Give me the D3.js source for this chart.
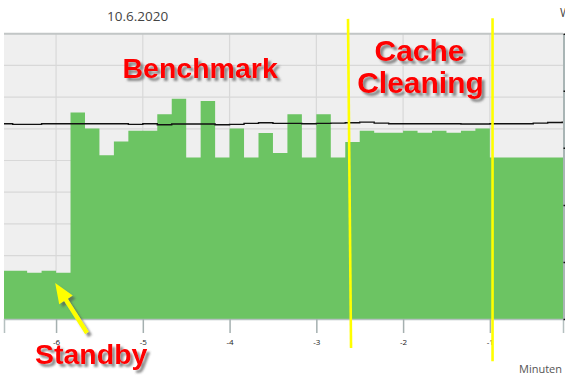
<!DOCTYPE html>
<html>
<head>
<meta charset="utf-8">
<script src="https://cdn.jsdelivr.net/npm/d3@7"></script>
<style>
  body { margin: 0; background: #fff; }
  svg { display: block; font-family: 'Open Sans', sans-serif; }
</style>
</head>
<body>
<script>
// sample start times in seconds (10 s steps), power in W, temperature line
let sampleSeconds = [-400, -390, -380, -370, -360, -350, -340, -330, -320, -310,
  -300, -290, -280, -270, -260, -250, -240, -230, -220, -210,
  -200, -190, -180, -170, -160, -150, -140, -130, -120, -110,
  -100, -90, -80, -70, -60, -50, -40, -30, -20, -10, 0];

let powerValues = [8.46, 8.46, 8.11, 8.46, 8.11, 36.2, 33.4, 28.7, 31.1, 33.0,
  33.0, 35.9, 38.6, 28.3, 38.2, 28.3, 33.4, 28.3, 32.6, 29.1,
  35.9, 28.3, 35.9, 28.3, 31.0, 33.0, 32.65, 32.65, 33.0, 32.65,
  33.0, 32.65, 33.0, 33.4, 28.3, 28.3, 28.3, 28.3, 28.3, 28.3, 28.3];

let tempValues = [61.6, 61.4, 61.4, 61.6, 61.6, 61.6, 61.6, 61.6, 61.6, 61.4,
  61.6, 61.3, 61.5, 61.5, 61.5, 61.3, 61.4, 61.7, 61.9, 61.7,
  61.7, 61.6, 61.7, 61.8, 61.9, 62.1, 61.8, 61.6, 61.6, 61.6,
  61.6, 61.6, 61.5, 61.5, 61.6, 61.6, 61.6, 61.8, 62.0, 62.1, 62.1];

let minuteTicks = [-6, -5, -4, -3, -2, -1];
let minuteLabels = ['-6', '-5', '-4', '-3', '-2', '-1'];
let powerTicks = [0, 10, 20, 30, 40, 50];

let width = 565;
let height = 380;
let plotLeft = 4, plotRight = 563, plotTop = 33.7, plotBottom = 319;

let svg = d3.select('body').append('svg')
  .attr('width', width)
  .attr('height', height);

let x = d3.scaleLinear().domain([-6.6, -0.157]).range([plotLeft, plotRight]);
let yPower = d3.scaleLinear().domain([0, 50]).range([plotBottom, plotTop]);
let yTemp = d3.scaleLinear().domain([0, 90]).range([plotBottom, plotTop]);

let samples = sampleSeconds.map((s, i) => {
  return { t: s / 60, power: powerValues[i], temp: tempValues[i] };
});

let defs = svg.append('defs');
defs.append('clipPath').attr('id', 'plot')
  .append('rect')
  .attr('x', plotLeft).attr('y', plotTop)
  .attr('width', plotRight - plotLeft).attr('height', plotBottom - plotTop);

let shadow = defs.append('filter').attr('id', 'shadow')
  .attr('x', '-10%').attr('y', '-20%').attr('width', '130%').attr('height', '150%');
shadow.append('feDropShadow')
  .attr('dx', 3).attr('dy', 3).attr('stdDeviation', 1.3)
  .attr('flood-color', '#555').attr('flood-opacity', 0.65);

// background + grid
svg.append('rect')
  .attr('x', plotLeft).attr('y', plotTop)
  .attr('width', plotRight - plotLeft).attr('height', plotBottom - plotTop)
  .attr('fill', '#efefef');

svg.append('g')
  .selectAll('line')
  .data(yTemp.ticks(9))
  .enter()
  .append('line')
  .attr('x1', plotLeft).attr('x2', plotRight)
  .attr('y1', (d) => yTemp(d)).attr('y2', (d) => yTemp(d))
  .attr('stroke', '#d8d8d8').attr('stroke-width', 1.2);

svg.append('g')
  .selectAll('line')
  .data(minuteTicks)
  .enter()
  .append('line')
  .attr('x1', (d) => x(d)).attr('x2', (d) => x(d))
  .attr('y1', plotTop).attr('y2', plotBottom)
  .attr('stroke', '#d8d8d8').attr('stroke-width', 1.2);

let plot = svg.append('g').attr('clip-path', 'url(#plot)');

let area = d3.area()
  .curve(d3.curveStepAfter)
  .x((d) => x(d.t))
  .y0(yPower(0))
  .y1((d) => yPower(d.power));

plot.append('path')
  .datum(samples)
  .attr('d', area)
  .attr('fill', '#6cc463');

let line = d3.line()
  .curve(d3.curveStepAfter)
  .x((d) => x(d.t))
  .y((d) => yTemp(d.temp));

plot.append('path')
  .datum(samples)
  .attr('d', line)
  .attr('fill', 'none')
  .attr('stroke', '#111')
  .attr('stroke-width', 1.4);

// frame
svg.append('line')
  .attr('x1', plotLeft).attr('x2', plotRight)
  .attr('y1', plotTop).attr('y2', plotTop)
  .attr('stroke', '#c2c6c6').attr('stroke-width', 2);

let xAxis = d3.axisBottom(x)
  .tickValues(minuteTicks)
  .tickFormat((d, i) => minuteLabels[i])
  .tickSize(14)
  .tickPadding(6.5);

let gx = svg.append('g')
  .attr('transform', 'translate(0,' + plotBottom + ')')
  .call(xAxis);
gx.select('.domain').attr('stroke', '#b5c0c0').attr('stroke-width', 1.5);
gx.selectAll('.tick line').attr('stroke', '#a5b0b0').attr('stroke-width', 1.5);
gx.selectAll('.tick text')
  .attr('font-family', 'Open Sans, sans-serif')
  .attr('font-size', 8)
  .attr('fill', '#222');

let yAxis = d3.axisRight(yPower)
  .tickValues(powerTicks)
  .tickFormat('')
  .tickSize(3)
  .tickSizeOuter(0);

let gy = svg.append('g')
  .attr('transform', 'translate(' + (plotRight + 0.5) + ',0)')
  .call(yAxis);
gy.select('.domain').attr('stroke', '#a9b5b5').attr('stroke-width', 2);
gy.selectAll('.tick line').attr('stroke', '#111').attr('stroke-width', 1.5);

// texts
svg.append('text')
  .attr('x', 107).attr('y', 21)
  .attr('font-size', 13.5).attr('fill', '#444')
  .text('10.6.2020');

svg.append('text')
  .attr('x', 560).attr('y', 17)
  .attr('font-size', 12).attr('fill', '#444')
  .text('W');

svg.append('text')
  .attr('x', 562).attr('y', 373)
  .attr('text-anchor', 'end')
  .attr('font-size', 11).attr('fill', '#555')
  .text('Minuten');

// phase markers (yellow)
let phaseLines = [
  { t0: -2.635, t1: -2.600 },
  { t0: -0.969, t1: -0.969 }
];
let phaseTop = [52.6, 52.7];
let phaseBottom = [-5.1, -7.4];

svg.append('g')
  .selectAll('line')
  .data(phaseLines)
  .enter()
  .append('line')
  .attr('x1', (d) => x(d.t0)).attr('x2', (d) => x(d.t1))
  .attr('y1', (d, i) => yPower(phaseTop[i]))
  .attr('y2', (d, i) => yPower(phaseBottom[i]))
  .attr('stroke', '#ffff00').attr('stroke-width', 2.6);

// arrow pointing at standby
let tip = [x(-6.01), yPower(6.3)];
let tail = [x(-5.643), yPower(-2.45)];
let dx = tip[0] - tail[0], dy = tip[1] - tail[1];
let len = Math.sqrt(dx * dx + dy * dy);
let ux = dx / len, uy = dy / len;
let nx = -uy, ny = ux;
let headLen = 20, headW = 8, shaftW = 2.2;
let bx = tip[0] - ux * headLen, by = tip[1] - uy * headLen;
let arrowPts = [
  [tail[0] + nx * shaftW, tail[1] + ny * shaftW],
  [bx + nx * shaftW, by + ny * shaftW],
  [bx + nx * headW, by + ny * headW],
  tip,
  [bx - nx * headW, by - ny * headW],
  [bx - nx * shaftW, by - ny * shaftW],
  [tail[0] - nx * shaftW, tail[1] - ny * shaftW]
];
svg.append('polygon')
  .attr('points', arrowPts.map((p) => p.join(',')).join(' '))
  .attr('fill', '#ffff00')
  .attr('filter', 'url(#shadow)');

let labels = [
  { text: 'Benchmark', x: 122.5, y: 77.7, size: 28.5, anchor: 'start' },
  { text: 'Cache', x: 419.5, y: 60.8, size: 30, anchor: 'middle' },
  { text: 'Cleaning', x: 420.5, y: 93.2, size: 30, anchor: 'middle' },
  { text: 'Standby', x: 35, y: 363.7, size: 28.5, anchor: 'start' }
];

svg.append('g')
  .selectAll('text')
  .data(labels)
  .enter()
  .append('text')
  .attr('x', (d) => d.x).attr('y', (d) => d.y)
  .attr('text-anchor', (d) => d.anchor)
  .attr('font-family', 'Liberation Sans, Arial, sans-serif')
  .attr('font-weight', 'bold')
  .attr('font-size', (d) => d.size)
  .attr('fill', '#ff0000')
  .attr('filter', 'url(#shadow)')
  .text((d) => d.text);
</script>
</body>
</html>
